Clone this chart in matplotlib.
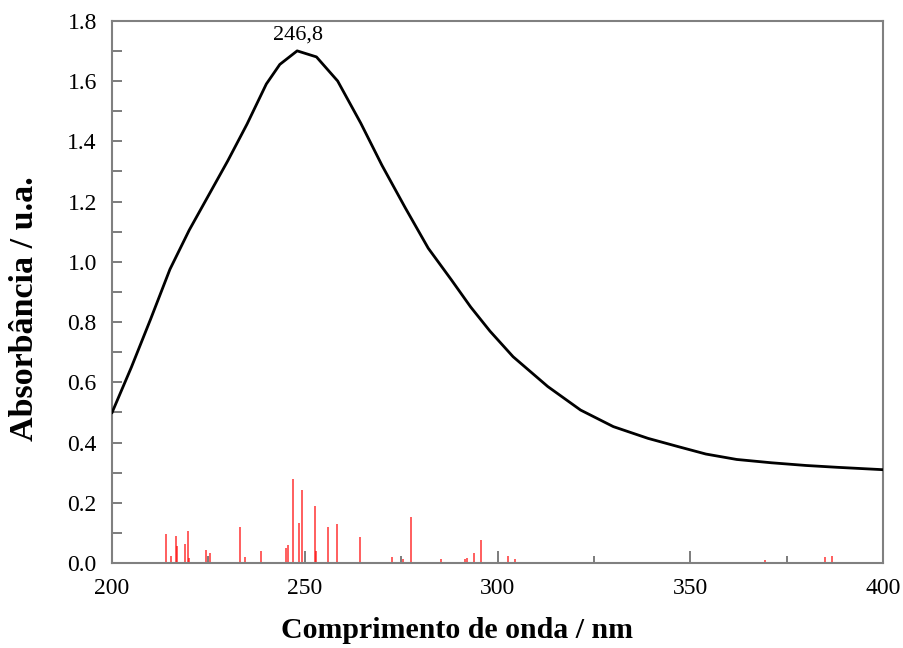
import numpy as np
import matplotlib.pyplot as plt
from matplotlib.ticker import MultipleLocator

plt.rc('font', family='Liberation Serif')

wavelength = [200, 205, 210, 215, 220, 225, 230, 235, 240, 243.5, 248, 253,
              258.5, 264.5, 270, 276, 282, 288, 293, 298, 304, 313, 321.5,
              330, 339, 347, 354, 362, 371, 380, 388, 400]
absorb = [0.50, 0.65, 0.81, 0.975, 1.105, 1.22, 1.335, 1.457, 1.59, 1.655,
          1.70, 1.68, 1.60, 1.46, 1.32, 1.18, 1.045, 0.94, 0.85, 0.77, 0.685,
          0.586, 0.508, 0.453, 0.414, 0.386, 0.362, 0.344, 0.333, 0.324,
          0.318, 0.31]

# calculated transitions (sticks)
stick_nm = [213.9, 215.3, 216.5, 216.9, 218.9, 219.7, 220.0, 224.3, 225.3,
            233.2, 234.5, 238.5, 245.2, 245.5, 246.9, 248.6, 249.2, 252.7,
            252.9, 256.0, 258.4, 264.4, 272.6, 275.4, 277.6, 285.2, 291.5,
            292.1, 293.8, 295.8, 302.8, 304.5, 369.4, 384.9, 386.7]
stick_f = [0.095, 0.023, 0.091, 0.058, 0.062, 0.105, 0.016, 0.043, 0.032,
           0.121, 0.021, 0.041, 0.049, 0.060, 0.278, 0.134, 0.243, 0.189,
           0.041, 0.121, 0.130, 0.087, 0.019, 0.012, 0.154, 0.012, 0.012,
           0.016, 0.032, 0.076, 0.023, 0.012, 0.011, 0.019, 0.023]

peak_label = '246,8'

fig, ax = plt.subplots(figsize=(9.04, 6.48), dpi=100)
fig.subplots_adjust(left=0.124, right=0.977, top=0.968, bottom=0.131)

ax.vlines(stick_nm, 0, stick_f, colors='red', lw=1.1, alpha=0.8, zorder=2)
ax.plot(wavelength, absorb, color='black', lw=2, zorder=3)
ax.text(248.2, 1.752, peak_label, ha='center', va='center', fontsize=16)

ax.set_xlim(200, 400)
ax.set_ylim(0, 1.8)
ax.xaxis.set_major_locator(MultipleLocator(50))
ax.xaxis.set_minor_locator(MultipleLocator(25))
ax.yaxis.set_major_locator(MultipleLocator(0.2))
ax.yaxis.set_minor_locator(MultipleLocator(0.1))
ax.yaxis.set_major_formatter(plt.FormatStrFormatter('%.1f'))

ax.tick_params(axis='both', which='both', direction='in', color='#666666',
               labelsize=17, width=1.2)
ax.tick_params(axis='x', which='major', length=9, pad=11)
ax.tick_params(axis='x', which='minor', length=5)
ax.tick_params(axis='y', which='both', length=7, pad=11)
for s in ax.spines.values():
    s.set_color('#808080')
    s.set_linewidth(1.5)

ax.set_xlabel('Comprimento de onda / nm', fontsize=21.5, fontweight='bold')
ax.set_ylabel('Absorbância / u.a.', fontsize=24.5, fontweight='bold')
ax.xaxis.set_label_coords(0.447, -0.10)
ax.yaxis.set_label_coords(-0.093, 0.47)

fig.savefig('out.png', dpi=100)
